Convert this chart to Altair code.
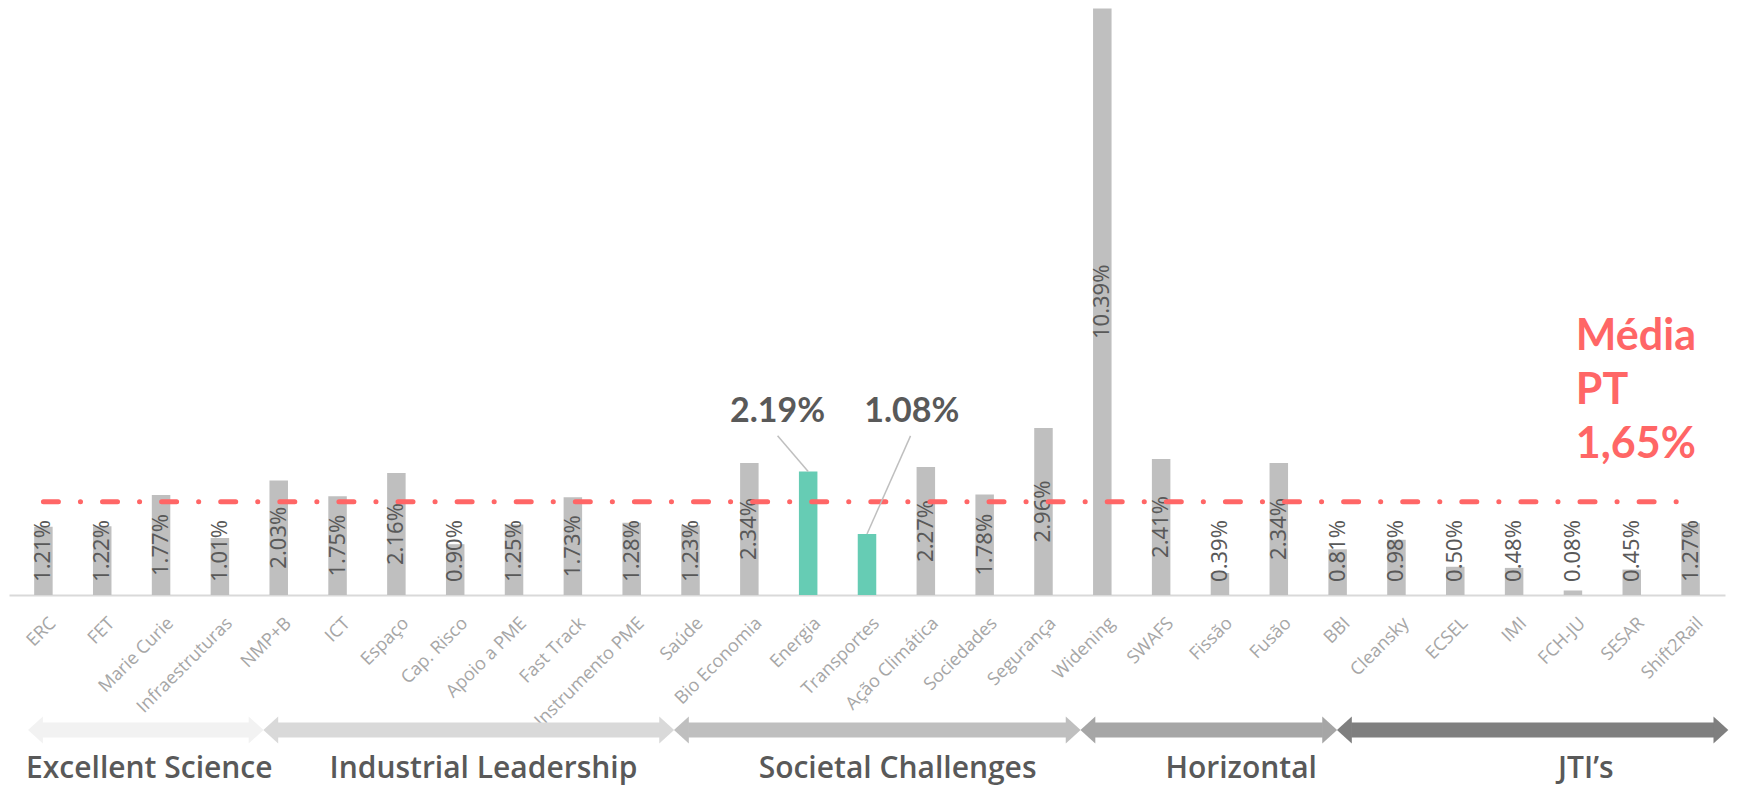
import json
import altair as alt
import pandas as pd

# ---------------- data ----------------
categories = ["ERC", "FET", "Marie Curie", "Infraestruturas", "NMP+B", "ICT", "Espaço",
              "Cap. Risco", "Apoio a PME", "Fast Track", "Instrumento PME", "Saúde",
              "Bio Economia", "Energia", "Transportes", "Ação Climática", "Sociedades",
              "Segurança", "Widening", "SWAFS", "Fissão", "Fusão", "BBI", "Cleansky",
              "ECSEL", "IMI", "FCH-JU", "SESAR", "Shift2Rail"]
values = [1.21, 1.22, 1.77, 1.01, 2.03, 1.75, 2.16, 0.90, 1.25, 1.73, 1.28, 1.23,
          2.34, 2.19, 1.08, 2.27, 1.78, 2.96, 10.39, 2.41, 0.39, 2.34, 0.81, 0.98,
          0.50, 0.48, 0.08, 0.45, 1.27]
highlighted = ["Energia", "Transportes"]
average_pt = 1.65

group_names = ["Excellent Science", "Industrial Leadership", "Societal Challenges",
               "Horizontal", "JTI’s"]
group_start = [-0.26, 3.74, 10.72, 17.63, 21.99]
group_end = [3.74, 10.72, 17.63, 21.99, 28.64]
group_label_pos = [1.80, 7.48, 14.52, 20.36, 26.22]
group_colors = ["#f2f2f2", "#d9d9d9", "#bfbfbf", "#a6a6a6", "#7f7f7f"]

callout_x = [12.48, 14.76]
callout_y = [3.24, 3.24]
leader_x = [12.48, 14.74]
leader_y = [2.82, 2.82]

media_x = 26.05
media_y = 4.34

# ---------------- frames ----------------
df = pd.DataFrame({"idx": list(range(len(categories))), "category": categories, "value": values})

hl_idx = [categories.index(c) for c in highlighted]
df_call = pd.DataFrame({
    "bx": hl_idx,
    "by": [values[i] for i in hl_idx],
    "lx": leader_x, "ly": leader_y,
    "tx": callout_x, "ty": callout_y,
    "text": [f"{values[i]:.2f}%" for i in hl_idx],
})

df_avg = pd.DataFrame({"x0": [0], "x1": [len(categories) - 1], "y": [average_pt],
                       "text": ["Média\nPT\n" + f"{average_pt:.2f}".replace(".", ",") + "%"],
                       "tx": [media_x], "ty": [media_y]})

df_groups = pd.DataFrame({"name": group_names, "start": group_start, "end": group_end,
                          "pos": group_label_pos, "color": group_colors})

# ---------------- styling ----------------
GRAY = "#bfbfbf"
TEAL = "#66ccb4"
RED = "#ff6666"
DARK = "#595959"
ARROW_Y = 722
TITLE_Y = 770
HEAD = 0.24

xs = alt.Scale(domain=[-0.5, len(categories) - 0.5], nice=False, zero=False)
ys = alt.Scale(domain=[0, 10.4], nice=False, zero=True)

label_expr = json.dumps(categories, ensure_ascii=False) + "[datum.value]"
hl_expr = json.dumps(highlighted, ensure_ascii=False)

x_axis = alt.Axis(values=list(range(len(categories))), labelExpr=label_expr,
                  labelAngle=-45, labelAlign="right", labelBaseline="top",
                  labelFont="Open Sans", labelFontSize=18, labelColor="#a6a6a6",
                  labelPadding=19, labelOffset=3, labelOverlap=False,
                  labelFlush=False, ticks=False, grid=False, title=None,
                  domainColor="#d9d9d9", domainWidth=2)


def X(field):
    return alt.X(field, scale=xs, axis=x_axis, title=None)


def Y(field):
    return alt.Y(field, scale=ys, axis=None, title=None)


bars = alt.Chart(df).mark_bar(size=18.5).encode(
    x=X("idx:Q"),
    y=Y("value:Q"),
    color=alt.condition(alt.FieldOneOfPredicate(field="category", oneOf=highlighted),
                        alt.value(TEAL), alt.value(GRAY)),
)

labels = alt.Chart(df).transform_filter(
    f"indexof({hl_expr}, datum.category) < 0"
).transform_calculate(
    ly="max(datum.value / 2, 0.78)",
    lt="format(datum.value, '.2f') + '%'",
).mark_text(angle=270, align="center", baseline="middle", font="Noto Sans",
            fontSize=22, color=DARK).encode(
    x=X("idx:Q"),
    y=Y("ly:Q"),
    text="lt:N",
)

avg_line = alt.Chart(df_avg).mark_rule(color=RED, strokeWidth=5, strokeCap="round",
                                       strokeDash=[15, 22, 0.1, 22]).encode(
    x=X("x0:Q"), x2="x1:Q",
    y=Y("y:Q"),
)

avg_text = alt.Chart(df_avg).mark_text(align="left", baseline="alphabetic", lineBreak="\n",
                                       lineHeight=54, font="Lato", fontWeight="bold",
                                       fontSize=43, color=RED).encode(
    x=X("tx:Q"),
    y=Y("ty:Q"),
    text="text:N",
)

leaders = alt.Chart(df_call).mark_rule(color=GRAY, strokeWidth=1.5).encode(
    x=X("bx:Q"), x2="lx:Q",
    y=Y("by:Q"), y2="ly:Q",
)

callouts = alt.Chart(df_call).mark_text(align="center", baseline="middle", font="Lato",
                                        fontWeight="bold", fontSize=34, color=DARK).encode(
    x=X("tx:Q"),
    y=Y("ty:Q"),
    text="text:N",
)

groups = alt.Chart(df_groups).transform_calculate(
    s=f"datum.start + {HEAD}", e=f"datum.end - {HEAD}",
    hs=f"datum.start + {HEAD + 0.011}", he=f"datum.end - {HEAD + 0.011}",
)

shafts = groups.mark_rule(strokeWidth=15, strokeCap="butt").encode(
    x=X("s:Q"), x2="e:Q",
    y=alt.value(ARROW_Y),
    color=alt.Color("color:N", scale=None, legend=None),
)

left_heads = groups.mark_point(shape="M0,-1L-1.1,0L0,1Z", size=729, filled=True,
                               opacity=1, strokeWidth=0).encode(
    x=X("hs:Q"),
    y=alt.value(ARROW_Y),
    color=alt.Color("color:N", scale=None, legend=None),
)

right_heads = groups.mark_point(shape="M0,-1L1.1,0L0,1Z", size=729, filled=True,
                                opacity=1, strokeWidth=0).encode(
    x=X("he:Q"),
    y=alt.value(ARROW_Y),
    color=alt.Color("color:N", scale=None, legend=None),
)

titles = alt.Chart(df_groups).mark_text(align="center", baseline="alphabetic",
                                        font="Open Sans", fontWeight=600, fontSize=30,
                                        color=DARK).encode(
    x=X("pos:Q"),
    y=alt.value(TITLE_Y),
    text="name:N",
)

chart = alt.layer(
    bars, labels, avg_line, leaders, callouts, avg_text,
    shafts, left_heads, right_heads, titles,
).properties(
    width=1716, height=587,
    autosize=alt.AutoSizeParams(type="none"),
    padding={"left": 1, "top": 0, "right": 6, "bottom": 191},
    background="white",
).configure_view(stroke=None)

chart.save("out.html", embed_options={"renderer": "svg", "actions": False})
